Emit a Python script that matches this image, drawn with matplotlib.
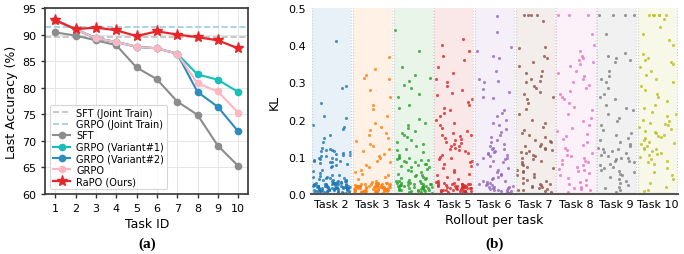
import numpy as np
import matplotlib
matplotlib.use("Agg")
import matplotlib.pyplot as plt

# ---------------- data: panel (a) ----------------
task_ids = [1, 2, 3, 4, 5, 6, 7, 8, 9, 10]
sft_joint = 89.5
grpo_joint = 91.5
sft = [90.4, 89.8, 88.9, 88.0, 83.8, 81.6, 77.4, 74.9, 69.1, 65.3]
grpo_v1 = [92.7, 91.0, 89.3, 88.6, 87.7, 87.4, 86.4, 82.5, 81.5, 79.2]
grpo_v2 = [92.7, 91.0, 89.3, 88.6, 87.7, 87.4, 86.4, 79.2, 76.4, 71.8]
grpo = [92.7, 91.0, 89.3, 88.6, 87.7, 87.4, 86.4, 80.8, 79.3, 75.3]
rapo = [92.7, 91.0, 91.3, 90.8, 89.7, 90.6, 90.0, 89.5, 88.9, 87.4]

# ---------------- data: panel (b) ----------------
task_labels = ["Task 2", "Task 3", "Task 4", "Task 5", "Task 6",
               "Task 7", "Task 8", "Task 9", "Task 10"]
kl_task2 = [0.41, 0.29, 0.285, 0.245, 0.21, 0.205, 0.185, 0.18, 0.176, 0.16, 0.15, 0.14,
            0.125, 0.121, 0.118, 0.116, 0.113, 0.11, 0.108, 0.104, 0.101, 0.098, 0.095,
            0.092, 0.09, 0.087, 0.085, 0.082, 0.079, 0.076, 0.072, 0.066, 0.061, 0.056,
            0.052, 0.049, 0.047, 0.045, 0.043, 0.041, 0.039, 0.038, 0.036, 0.035, 0.033,
            0.032, 0.031, 0.029, 0.028, 0.027, 0.026, 0.025, 0.024, 0.023, 0.022, 0.021,
            0.02, 0.019, 0.018, 0.017, 0.016, 0.015, 0.014, 0.013, 0.012, 0.011, 0.01,
            0.009, 0.008, 0.007, 0.006, 0.005, 0.004, 0.027, 0.023, 0.019, 0.016, 0.013,
            0.031, 0.021, 0.011, 0.017, 0.014, 0.009, 0.024, 0.018, 0.012, 0.007, 0.02,
            0.015, 0.028, 0.034, 0.042, 0.037, 0.026, 0.022, 0.01, 0.006, 0.003, 0.019,
            0.004, 0.008, 0.012, 0.016, 0.02, 0.024, 0.03, 0.036, 0.044, 0.05, 0.005,
            0.011, 0.015, 0.021, 0.025, 0.029, 0.003, 0.009, 0.013, 0.017, 0.023, 0.027,
            0.106, 0.097, 0.088, 0.115, 0.083, 0.119, 0.094, 0.102]
kl_task3 = [0.368, 0.336, 0.32, 0.312, 0.308, 0.28, 0.262, 0.24, 0.228, 0.21, 0.18,
            0.19, 0.172, 0.165, 0.158, 0.15, 0.142, 0.135, 0.128, 0.122, 0.115, 0.108,
            0.102, 0.096, 0.09, 0.085, 0.078, 0.072, 0.066, 0.06, 0.055, 0.05, 0.045,
            0.04, 0.036, 0.033, 0.03, 0.029, 0.028, 0.027, 0.026, 0.025, 0.024, 0.023,
            0.022, 0.021, 0.02, 0.019, 0.018, 0.017, 0.016, 0.015, 0.014, 0.013, 0.012,
            0.011, 0.01, 0.009, 0.008, 0.007, 0.006, 0.005, 0.004, 0.026, 0.022, 0.018,
            0.014, 0.01, 0.024, 0.02, 0.016, 0.012, 0.008, 0.028, 0.021, 0.015, 0.011,
            0.019, 0.013, 0.025, 0.017, 0.009, 0.023, 0.006, 0.003, 0.007, 0.012,
            0.016, 0.021, 0.026, 0.03, 0.005, 0.01, 0.014, 0.018, 0.023, 0.027, 0.004,
            0.009, 0.013, 0.02, 0.025, 0.029, 0.008, 0.015]
kl_task4 = [0.44, 0.385, 0.34, 0.32, 0.312, 0.305, 0.292, 0.286, 0.27, 0.262, 0.24,
            0.23, 0.202, 0.19, 0.185, 0.178, 0.17, 0.165, 0.158, 0.152, 0.146, 0.14,
            0.135, 0.128, 0.122, 0.118, 0.112, 0.106, 0.1, 0.097, 0.094, 0.091, 0.088,
            0.085, 0.082, 0.079, 0.076, 0.072, 0.068, 0.064, 0.06, 0.055, 0.05, 0.045,
            0.04, 0.036, 0.033, 0.03, 0.028, 0.026, 0.024, 0.022, 0.02, 0.018, 0.016,
            0.014, 0.012, 0.01, 0.008, 0.006, 0.004, 0.027, 0.023, 0.019, 0.015, 0.011,
            0.029, 0.021, 0.017, 0.013, 0.009, 0.025, 0.031, 0.035, 0.042, 0.048, 0.038,
            0.086, 0.092, 0.098, 0.08, 0.074, 0.005, 0.01, 0.015, 0.02, 0.025, 0.03,
            0.007, 0.012, 0.018, 0.022, 0.028, 0.034, 0.044, 0.052, 0.062]
kl_task5 = [0.417, 0.40, 0.385, 0.37, 0.36, 0.34, 0.325, 0.31, 0.3, 0.29, 0.28,
            0.272, 0.265, 0.255, 0.248, 0.24, 0.232, 0.225, 0.218, 0.21, 0.2, 0.192,
            0.185, 0.178, 0.17, 0.165, 0.16, 0.155, 0.15, 0.145, 0.14, 0.135, 0.13,
            0.125, 0.12, 0.115, 0.11, 0.105, 0.1, 0.095, 0.09, 0.085, 0.08, 0.075,
            0.07, 0.065, 0.06, 0.055, 0.05, 0.045, 0.04, 0.035, 0.031, 0.028, 0.026,
            0.024, 0.022, 0.02, 0.018, 0.016, 0.014, 0.012, 0.01, 0.008, 0.006, 0.004,
            0.027, 0.023, 0.019, 0.015, 0.011, 0.029, 0.021, 0.017, 0.013, 0.009,
            0.025, 0.007, 0.138, 0.118, 0.158, 0.098, 0.128, 0.148, 0.003, 0.005,
            0.009, 0.012, 0.016, 0.02, 0.024, 0.028, 0.032, 0.007, 0.011, 0.015,
            0.019, 0.023, 0.026, 0.03]
kl_task6 = [0.478, 0.435, 0.395, 0.385, 0.37, 0.365, 0.33, 0.31, 0.305, 0.3, 0.282,
            0.275, 0.262, 0.258, 0.225, 0.218, 0.21, 0.198, 0.192, 0.185, 0.175, 0.168,
            0.16, 0.152, 0.145, 0.14, 0.135, 0.13, 0.125, 0.12, 0.115, 0.11, 0.106,
            0.102, 0.098, 0.094, 0.09, 0.085, 0.08, 0.075, 0.07, 0.065, 0.06, 0.055,
            0.05, 0.045, 0.04, 0.036, 0.032, 0.028, 0.025, 0.022, 0.019, 0.016, 0.013,
            0.01, 0.007, 0.004, 0.03, 0.024, 0.018, 0.012, 0.008, 0.027, 0.015,
            0.108, 0.112, 0.096, 0.122, 0.005, 0.01, 0.02, 0.034, 0.042]
kl_task7 = [0.48, 0.48, 0.48, 0.48, 0.465, 0.395, 0.393, 0.372, 0.365, 0.355, 0.345,
            0.33, 0.325, 0.318, 0.31, 0.305, 0.3, 0.29, 0.285, 0.275, 0.268, 0.262,
            0.255, 0.245, 0.228, 0.215, 0.2, 0.19, 0.18, 0.172, 0.165, 0.158, 0.152,
            0.145, 0.14, 0.135, 0.13, 0.125, 0.12, 0.115, 0.11, 0.106, 0.102, 0.098,
            0.094, 0.09, 0.086, 0.082, 0.078, 0.074, 0.07, 0.066, 0.062, 0.058, 0.054,
            0.05, 0.046, 0.042, 0.038, 0.034, 0.03, 0.026, 0.022, 0.018, 0.014, 0.01,
            0.006, 0.028, 0.02, 0.012, 0.024, 0.016, 0.008, 0.13, 0.118, 0.142, 0.112]
kl_task8 = [0.48, 0.48, 0.48, 0.43, 0.40, 0.385, 0.372, 0.365, 0.36, 0.355, 0.35,
            0.345, 0.33, 0.325, 0.318, 0.31, 0.3, 0.292, 0.285, 0.278, 0.27, 0.262,
            0.255, 0.245, 0.235, 0.225, 0.215, 0.205, 0.195, 0.185, 0.178, 0.17,
            0.162, 0.155, 0.148, 0.14, 0.132, 0.125, 0.118, 0.11, 0.104, 0.098, 0.092,
            0.086, 0.08, 0.074, 0.068, 0.062, 0.056, 0.05, 0.044, 0.038, 0.032, 0.026,
            0.02, 0.015, 0.01, 0.006, 0.024, 0.014, 0.09, 0.102, 0.065, 0.078]
kl_task9 = [0.48, 0.48, 0.48, 0.48, 0.43, 0.38, 0.372, 0.365, 0.36, 0.355, 0.33,
            0.318, 0.31, 0.3, 0.285, 0.27, 0.262, 0.255, 0.24, 0.232, 0.225, 0.215,
            0.205, 0.195, 0.185, 0.172, 0.165, 0.158, 0.15, 0.145, 0.14, 0.135, 0.13,
            0.125, 0.12, 0.115, 0.11, 0.106, 0.102, 0.098, 0.094, 0.09, 0.086, 0.082,
            0.078, 0.074, 0.07, 0.066, 0.062, 0.058, 0.054, 0.05, 0.045, 0.04, 0.035,
            0.03, 0.025, 0.02, 0.015, 0.01, 0.006, 0.112, 0.096, 0.088, 0.12]
kl_task10 = [0.48, 0.48, 0.48, 0.48, 0.48, 0.48, 0.47, 0.45, 0.43, 0.415, 0.40,
             0.375, 0.365, 0.36, 0.355, 0.35, 0.34, 0.33, 0.32, 0.31, 0.3, 0.29,
             0.28, 0.27, 0.26, 0.25, 0.24, 0.23, 0.22, 0.215, 0.21, 0.2, 0.195,
             0.19, 0.185, 0.18, 0.175, 0.17, 0.165, 0.16, 0.155, 0.15, 0.145, 0.14,
             0.135, 0.13, 0.125, 0.12, 0.115, 0.11, 0.105, 0.1, 0.095, 0.09, 0.085,
             0.08, 0.07, 0.06, 0.05, 0.04, 0.03, 0.02, 0.012, 0.008, 0.168, 0.152,
             0.138, 0.122, 0.188, 0.108]
kl_values = [kl_task2, kl_task3, kl_task4, kl_task5, kl_task6,
             kl_task7, kl_task8, kl_task9, kl_task10]

# ---------------- figure ----------------
fig = plt.figure(figsize=(6.84, 2.55), dpi=100)
plt.rcParams['font.family'] = ['DejaVu Sans']

ax1 = fig.add_axes([0.066, 0.235, 0.297, 0.730])
ax2 = fig.add_axes([0.455, 0.235, 0.536, 0.730])

# ---- panel (a)
ax1.grid(True, color="#e6e6e6", linewidth=0.7)
ax1.set_axisbelow(True)
ax1.axhline(sft_joint, color="#bdbdbd", linestyle="--", linewidth=1.2, label="SFT (Joint Train)")
ax1.axhline(grpo_joint, color="#9ecae1", linestyle="--", linewidth=1.2, label="GRPO (Joint Train)")
ax1.plot(task_ids, sft, color="#8c8c8c", marker="o", markersize=4.5, linewidth=1.5, label="SFT")
ax1.plot(task_ids, grpo_v1, color="#17bebb", marker="o", markersize=4.5, linewidth=1.5, label="GRPO (Variant#1)")
ax1.plot(task_ids, grpo_v2, color="#2b8cbe", marker="o", markersize=4.5, linewidth=1.5, label="GRPO (Variant#2)")
ax1.plot(task_ids, grpo, color="#ffb6c1", marker="o", markersize=4.5, linewidth=1.5, label="GRPO")
ax1.plot(task_ids, rapo, color="#e8262a", marker="*", markersize=8, linewidth=1.6, label="RaPO (Ours)")
ax1.set_xlim(0.5, 10.5)
ax1.set_ylim(60, 95)
ax1.set_xticks(task_ids)
ax1.set_yticks([60, 65, 70, 75, 80, 85, 90, 95])
ax1.tick_params(labelsize=8, length=3, width=1, color="#333333")
for s in ax1.spines.values():
    s.set_color("#333333")
    s.set_linewidth(1.2)
ax1.set_xlabel("Task ID", fontsize=9, labelpad=3)
ax1.set_ylabel("Last Accuracy (%)", fontsize=9, labelpad=3)
leg = ax1.legend(loc="lower left", fontsize=7, frameon=True, handlelength=1.8,
                 labelspacing=0.15, borderpad=0.3, handletextpad=0.6,
                 bbox_to_anchor=(0.0, 0.0))
leg.get_frame().set_edgecolor("#cccccc")
leg.get_frame().set_linewidth(0.8)

# ---- panel (b)
colors = plt.get_cmap("tab10").colors
jitter_rng = np.random.default_rng(7)  # horizontal jitter only (layout)
for i, vals in enumerate(kl_values):
    c = colors[i]
    ax2.axvspan(i - 0.48, i + 0.48, color=c, alpha=0.1, linewidth=0)
    ax2.axvline(i - 0.48, color="#d0d0d0", linestyle=":", linewidth=0.8)
    ax2.axvline(i + 0.48, color="#d0d0d0", linestyle=":", linewidth=0.8)
    offs = jitter_rng.uniform(-0.46, 0.46, len(vals))
    ax2.scatter(i + offs, vals, s=5, color=c, alpha=0.8, linewidths=0)
ax2.set_xlim(-0.5, 8.5)
ax2.set_ylim(0, 0.5)
ax2.set_xticks(range(len(task_labels)))
ax2.set_xticklabels(task_labels)
ax2.set_yticks([0.0, 0.1, 0.2, 0.3, 0.4, 0.5])
ax2.tick_params(labelsize=8, length=0)
for side in ["top", "right", "left"]:
    ax2.spines[side].set_visible(False)
ax2.spines["bottom"].set_color("#555555")
ax2.spines["bottom"].set_linewidth(1.5)
ax2.set_xlabel("Rollout per task", fontsize=9, labelpad=3)
ax2.set_ylabel("KL", fontsize=9, labelpad=6)

fig.text(0.215, 0.03, "(a)", fontsize=11, fontweight="bold", family="Liberation Serif", ha="center")
fig.text(0.723, 0.03, "(b)", fontsize=11, fontweight="bold", family="Liberation Serif", ha="center")

fig.savefig("out.png", dpi=100)
